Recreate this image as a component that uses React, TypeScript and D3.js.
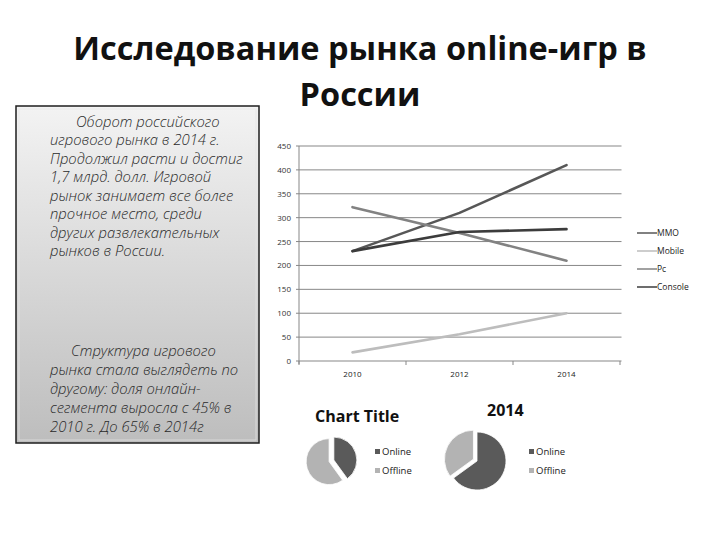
import React from "react";
import * as d3 from "d3";

// line chart data
const years = ["2010", "2012", "2014"];
const seriesNames = ["MMO", "Mobile", "Pc", "Console"];
const mmo = [230, 310, 410];
const mobile = [18, 56, 100];
const pc = [322, 268, 210];
const consoleV = [230, 270, 276];
const yTicks = [0, 50, 100, 150, 200, 250, 300, 350, 400, 450];

// pie data
const pieLabels = ["Online", "Offline"];
const pie2010 = [40, 60];
const pie2014 = [65, 35];

const titleLines = ["Исследование рынка online-игр в", "России"];
const para1 = [
  "Оборот российского",
  "игрового рынка в 2014 г.",
  "Продолжил расти и достиг",
  "1,7 млрд. долл. Игровой",
  "рынок занимает все более",
  "прочное место, среди",
  "других развлекательных",
  "рынков в России.",
];
const para2 = [
  "Структура игрового",
  "рынка стала выглядеть по",
  "другому: доля онлайн-",
  "сегмента выросла с 45% в",
  "2010 г. До 65% в 2014г",
];

const lineColors = ["#575757", "#bdbdbd", "#828282", "#3c3c3c"];
const pieColors = ["#5a5a5a", "#b3b3b3"];
const font = "'Open Sans', 'DejaVu Sans', sans-serif";

function Pie({ values, cx, cy, r, explode, title, tx, ty, lx }) {
  const arcs = d3.pie<number>().sort(null)(values);
  const arc = d3.arc<any>().innerRadius(0).outerRadius(r);
  return (
    <g>
      <text x={tx} y={ty} fontFamily={font} fontWeight="bold" fontSize={16} fill="#111">
        {title}
      </text>
      {arcs.map((a, i) => {
        const mid = (a.startAngle + a.endAngle) / 2;
        const dx = Math.sin(mid) * explode[i];
        const dy = -Math.cos(mid) * explode[i];
        return (
          <path
            key={i}
            d={arc(a) || ""}
            transform={`translate(${cx + dx},${cy + dy})`}
            fill={pieColors[i]}
            stroke="#fff"
            strokeWidth={0.8}
          />
        );
      })}
      {pieLabels.map((l, i) => (
        <g key={l} transform={`translate(${lx},${452 + i * 19})`}>
          <rect x={0} y={-3} width={5} height={5} fill={pieColors[i]} />
          <text x={7} y={3} fontFamily={font} fontSize={9.5} fill="#222">
            {l}
          </text>
        </g>
      ))}
    </g>
  );
}

export default function App() {
  const all = [mmo, mobile, pc, consoleV];
  const x = d3.scaleBand().domain(years).range([299, 620]);
  const y = d3.scaleLinear().domain([0, 450]).range([361, 146]);
  const line = d3
    .line<number>()
    .x((_, i) => (x(years[i]) as number) + x.bandwidth() / 2)
    .y((d) => y(d));

  return (
    <svg
      width={720}
      height={540}
      style={{ position: "absolute", left: 0, top: 0, background: "#fff" }}
    >
      <defs>
        <linearGradient id="boxg" x1="0" y1="0" x2="0" y2="1">
          <stop offset="0%" stopColor="#f3f3f3" />
          <stop offset="100%" stopColor="#bdbdbd" />
        </linearGradient>
      </defs>

      {/* title */}
      {titleLines.map((t, i) => (
        <text
          key={i}
          x={360}
          y={60 + i * 46}
          textAnchor="middle"
          fontFamily={font}
          fontWeight="bold"
          fontSize={32.5}
          fill="#111"
        >
          {t}
        </text>
      ))}

      {/* text box */}
      <rect x={16} y={106} width={243} height={337} fill="url(#boxg)" stroke="#1e1e1e" strokeWidth={1.5} />
      <rect x={19} y={109} width={237} height={331} fill="none" stroke="#e6e6e6" strokeWidth={1} opacity={0.7} />
      {para1.map((t, i) => (
        <text
          key={i}
          x={i === 0 ? 76 : 50}
          y={126.5 + i * 18.5}
          fontFamily={font}
          fontStyle="italic"
          fontWeight={300}
          fontSize={14.8}
          fill="#2a2a2a"
        >
          {t}
        </text>
      ))}
      {para2.map((t, i) => (
        <text
          key={i}
          x={i === 0 ? 71 : 50}
          y={356 + i * 19}
          fontFamily={font}
          fontStyle="italic"
          fontWeight={300}
          fontSize={14.8}
          fill="#2a2a2a"
        >
          {t}
        </text>
      ))}

      {/* line chart */}
      <g>
        {yTicks.map((t) => (
          <g key={t}>
            <line x1={296} x2={621.5} y1={y(t)} y2={y(t)} stroke="#878787" strokeWidth={1} />
            <text
              x={291}
              y={y(t) + 3}
              textAnchor="end"
              fontFamily={font}
              fontSize={8}
              fill="#333"
            >
              {t}
            </text>
          </g>
        ))}
        <line x1={299} x2={299} y1={y(450)} y2={y(0) + 3} stroke="#878787" strokeWidth={1} />
        {[...years.map((yr) => x(yr) as number), 620].map((v, i) => (
          <line key={i} x1={v} x2={v} y1={y(0)} y2={y(0) + 4} stroke="#878787" strokeWidth={1} />
        ))}
        {years.map((yr) => (
          <text
            key={yr}
            x={(x(yr) as number) + x.bandwidth() / 2}
            y={377}
            textAnchor="middle"
            fontFamily={font}
            fontSize={8}
            fill="#222"
          >
            {yr}
          </text>
        ))}
        {all.map((s, i) => (
          <path
            key={i}
            d={line(s) || ""}
            fill="none"
            stroke={lineColors[i]}
            strokeWidth={2.6}
            strokeLinejoin="round"
            strokeLinecap="round"
          />
        ))}
        {seriesNames.map((n, i) => (
          <g key={n} transform={`translate(637,${233 + i * 18})`}>
            <line x1={0} x2={20} y1={0} y2={0} stroke={lineColors[i]} strokeWidth={1.5} />
            <text x={20} y={3} fontFamily={font} fontSize={8.5} fill="#222">
              {n}
            </text>
          </g>
        ))}
      </g>

      {/* pies */}
      <Pie
        values={pie2010}
        cx={331}
        cy={461}
        r={23}
        explode={[3, 2]}
        title="Chart Title"
        tx={315}
        ty={422}
        lx={375}
      />
      <Pie
        values={pie2014}
        cx={477}
        cy={461}
        r={29}
        explode={[0, 4]}
        title="2014"
        tx={487}
        ty={416}
        lx={529}
      />
    </svg>
  );
}
